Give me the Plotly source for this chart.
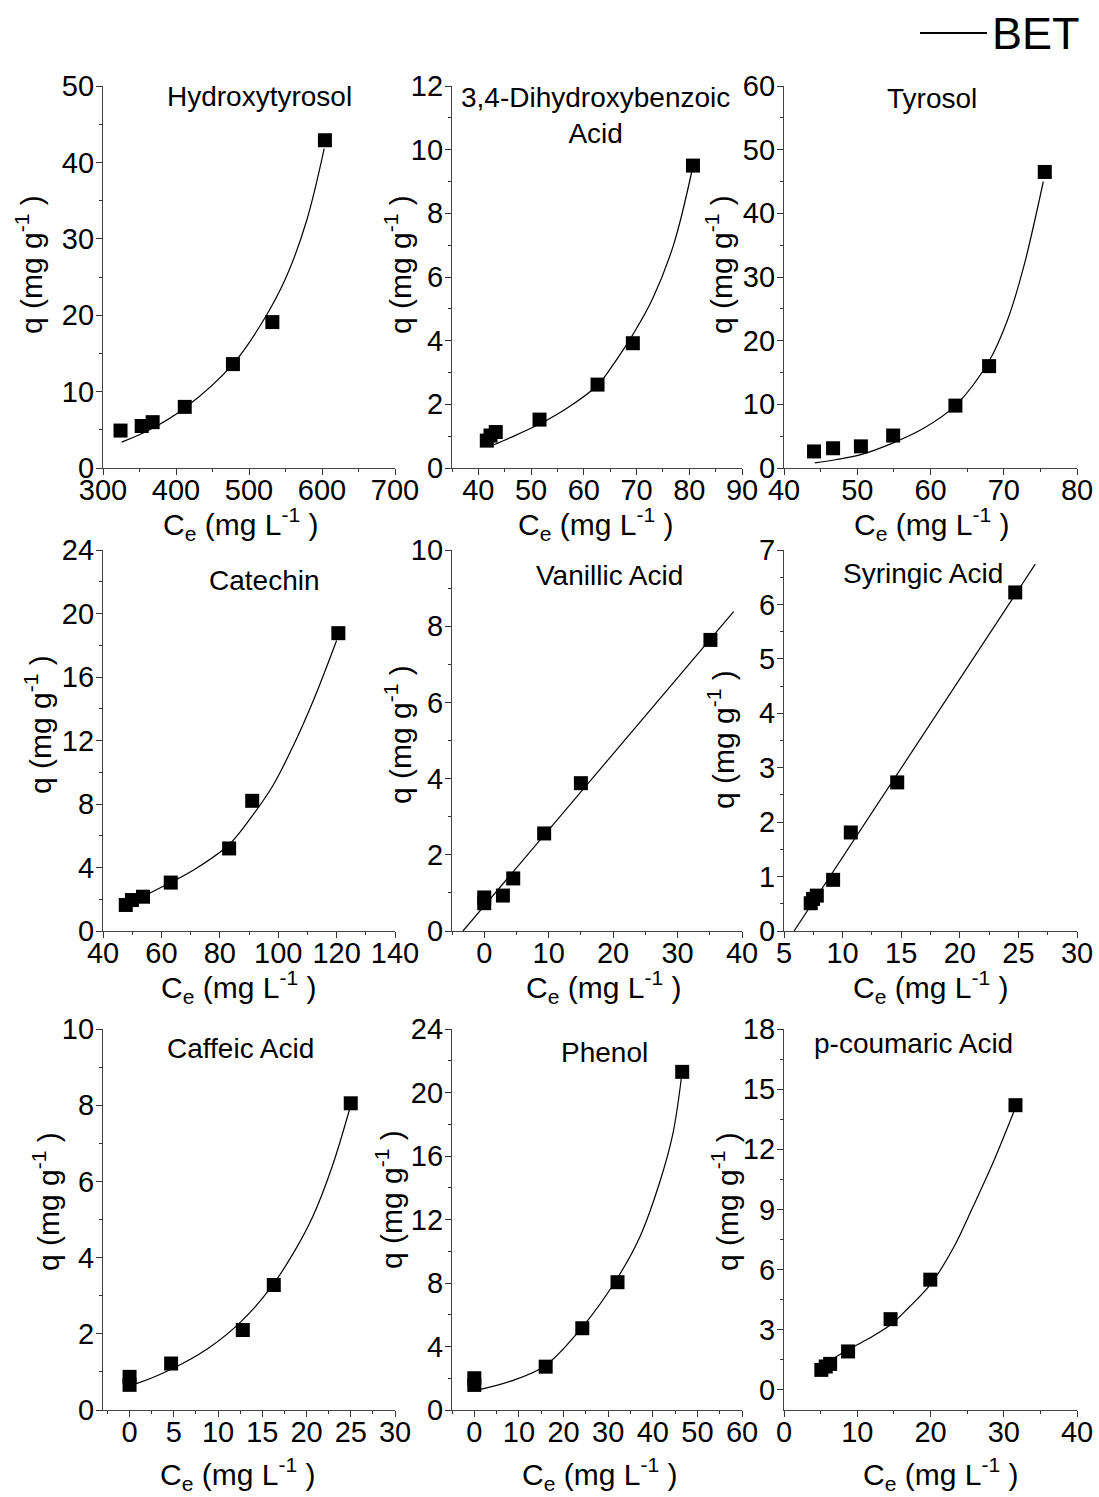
import plotly.graph_objects as go

FONT = "Arial, Liberation Sans, sans-serif"

panel_names = ["Hydroxytyrosol", "3,4-Dihydroxybenzoic<br>Acid", "Tyrosol",
               "Catechin", "Vanillic Acid", "Syringic Acid",
               "Caffeic Acid", "Phenol", "p-coumaric Acid"]
x_title = "C<sub>e</sub> (mg L<sup>-1</sup> )"
y_title = "q (mg g<sup>-1</sup> )"
legend_label = "BET"

# ---- experimental points (Ce, q) ----
hyd_ce = [324, 353, 368, 412, 478, 532, 604]
hyd_q = [4.9, 5.5, 6.0, 8.0, 13.6, 19.1, 42.9]
dhb_ce = [41.6, 42.3, 43.3, 51.6, 62.6, 69.3, 80.7]
dhb_q = [0.86, 1.02, 1.13, 1.52, 2.62, 3.92, 9.5]
tyr_ce = [44.1, 46.7, 50.5, 54.9, 63.4, 68.0, 75.6]
tyr_q = [2.6, 3.1, 3.4, 5.1, 9.8, 16.0, 46.5]
cat_ce = [47.8, 49.9, 53.7, 63.2, 83.2, 91.1, 120.6]
cat_q = [1.64, 1.95, 2.16, 3.05, 5.2, 8.2, 18.76]
van_ce = [0, 0, 2.9, 4.5, 9.3, 15.0, 35.1]
van_q = [0.88, 0.73, 0.93, 1.38, 2.56, 3.88, 7.64]
syr_ce = [7.28, 7.48, 7.8, 9.19, 10.7, 14.66, 24.73]
syr_q = [0.51, 0.59, 0.65, 0.94, 1.81, 2.73, 6.22]
caf_ce = [0, 0, 4.7, 12.8, 16.3, 25.0]
caf_q = [0.87, 0.66, 1.22, 2.1, 3.28, 8.05]
phe_ce = [0, 0, 16.0, 24.2, 32.1, 46.6]
phe_q = [2.0, 1.58, 2.73, 5.15, 8.05, 21.3]
pco_ce = [5.1, 5.7, 6.3, 8.75, 14.55, 19.97, 31.6]
pco_q = [1.0, 1.17, 1.3, 1.92, 3.53, 5.5, 14.2]

# ---- BET fit curves ----
hyd_fit_ce = [325.6, 364, 412, 478, 519, 551, 579, 603]
hyd_fit_q = [3.38, 5.0, 7.85, 13.6, 19.2, 25.0, 32.4, 41.8]
dhb_fit_ce = [42.9, 46, 51.6, 57, 62.6, 66, 69.3, 73, 77, 80.5]
dhb_fit_q = [0.73, 0.95, 1.38, 1.9, 2.6, 3.35, 4.19, 5.3, 7.0, 9.33]
tyr_fit_ce = [44.2, 47, 50.5, 54.9, 59, 63.4, 68, 70.5, 72.7, 75.4]
tyr_fit_q = [0.8, 1.3, 2.1, 3.95, 6.2, 9.8, 16.8, 23.2, 31.5, 45.0]
cat_fit_ce = [48.6, 55, 63.2, 72, 83.2, 91.1, 98, 105, 112, 120]
cat_fit_q = [1.74, 2.3, 3.05, 3.95, 5.45, 7.25, 9.1, 11.6, 14.5, 18.3]
van_fit_ce = [-3.3, 38.7]
van_fit_q = [0.0, 8.38]
syr_fit_ce = [5.86, 26.44]
syr_fit_q = [0.0, 6.74]
caf_fit_ce = [0.3, 0.84, 4.88, 8.9, 12.6, 15.9, 18.5, 20.7, 22.9, 24.9]
caf_fit_q = [0.67, 0.70, 1.09, 1.62, 2.32, 3.19, 4.11, 5.07, 6.39, 7.92]
phe_fit_ce = [0.2, 8, 15.8, 24, 31.8, 37.1, 41.5, 44.5, 46.4]
phe_fit_q = [1.22, 1.8, 2.77, 5.15, 8.19, 10.9, 14.3, 17.4, 20.9]
pco_fit_ce = [5.5, 8.75, 11.5, 14.55, 17, 19.97, 23, 25.85, 28.5, 31.4]
pco_fit_q = [1.3, 2.0, 2.55, 3.25, 4.1, 5.25, 7.0, 9.17, 11.3, 13.9]

points = [(hyd_ce, hyd_q), (dhb_ce, dhb_q), (tyr_ce, tyr_q),
          (cat_ce, cat_q), (van_ce, van_q), (syr_ce, syr_q),
          (caf_ce, caf_q), (phe_ce, phe_q), (pco_ce, pco_q)]
fits = [(hyd_fit_ce, hyd_fit_q), (dhb_fit_ce, dhb_fit_q), (tyr_fit_ce, tyr_fit_q),
        (cat_fit_ce, cat_fit_q), (van_fit_ce, van_fit_q), (syr_fit_ce, syr_fit_q),
        (caf_fit_ce, caf_fit_q), (phe_fit_ce, phe_fit_q), (pco_fit_ce, pco_fit_q)]

# axis ranges and ticks: (range, dtick, tick0, minor dtick)
x_axes = [([300, 700], 100, 300, 50), ([35, 90], 10, 40, 5), ([40, 80], 10, 40, 5),
          ([40, 140], 20, 40, 10), ([-5, 40], 10, 0, 5), ([5, 30], 5, 5, 2.5),
          ([-3, 30], 5, 0, 2.5), ([-5, 60], 10, 0, 5), ([0, 40], 10, 0, 5)]
y_axes = [([0, 50], 10, 0, 5), ([0, 12], 2, 0, 1), ([0, 60], 10, 0, 5),
          ([0, 24], 4, 0, 2), ([0, 10], 2, 0, 1), ([0, 7], 1, 0, 0.5),
          ([0, 10], 2, 0, 1), ([0, 24], 4, 0, 2), ([-1, 18], 3, 0, 1.5)]

W, H = 1099, 1497
col_px = [(103, 395), (452, 742), (784, 1077)]
row_px = [(86, 468), (550, 931), (1029, 1410)]
title_px = [(259, 97), (595, 115), (932, 98), (264, 580), (609, 575), (923, 573),
            (240, 1048), (604, 1052), (913, 1043)]
ytitle_px = [(29, 265), (398, 265), (719, 265), (38, 725), (398, 735), (721, 740),
             (46, 1202), (389, 1200), (725, 1202)]
xtitle_px = [(240, 524), (595, 524), (931, 524), (238, 987), (603, 987), (930, 987),
             (237, 1474), (599, 1474), (940, 1474)]

fig = go.Figure()
layout = {}
annotations = []
for i in range(9):
    r, c = divmod(i, 3)
    n = "" if i == 0 else str(i + 1)
    xa, ya = "x" + n, "y" + n
    px, py = points[i]
    fx, fy = fits[i]
    shape = "linear" if len(fx) == 2 else "spline"
    fig.add_trace(go.Scatter(x=fx, y=fy, mode="lines", xaxis=xa, yaxis=ya,
                             line=dict(color="black", width=1.2, shape=shape),
                             name=legend_label, showlegend=False))
    fig.add_trace(go.Scatter(x=px, y=py, mode="markers", xaxis=xa, yaxis=ya,
                             marker=dict(symbol="square", size=14, color="black"),
                             showlegend=False, name=panel_names[i].replace("<br>", " ")))
    xr, xd, x0, xm = x_axes[i]
    yr, yd, y0, ym = y_axes[i]
    common = dict(showline=True, linecolor="#444", linewidth=1.3, ticks="outside",
                  ticklen=6, tickwidth=1.2, tickcolor="#333", showgrid=False,
                  zeroline=False, tickfont=dict(family=FONT, size=29, color="black"),
                  automargin=False)
    layout["xaxis" + n] = dict(common, range=xr, dtick=xd, tick0=x0, anchor=ya,
                               domain=[col_px[c][0] / W, col_px[c][1] / W],
                               ticklabelstandoff=-10,
                               minor=dict(ticks="outside", ticklen=3, dtick=xm, tick0=x0,
                                          tickcolor="#333"))
    layout["yaxis" + n] = dict(common, range=yr, dtick=yd, tick0=y0, anchor=xa,
                               domain=[1 - row_px[r][1] / H, 1 - row_px[r][0] / H],
                               ticklabelstandoff=-4,
                               minor=dict(ticks="outside", ticklen=3, dtick=ym, tick0=y0,
                                          tickcolor="#333"))
    tx, ty = title_px[i]
    annotations.append(dict(text=panel_names[i], x=tx / W, y=1 - ty / H, xref="paper",
                            yref="paper", showarrow=False, xanchor="center",
                            yanchor="middle", font=dict(family=FONT, size=28, color="black")))
    yx, yy = ytitle_px[i]
    annotations.append(dict(text=y_title, x=yx / W, y=1 - yy / H, xref="paper",
                            yref="paper", showarrow=False, textangle=-90,
                            xanchor="center", yanchor="middle",
                            font=dict(family=FONT, size=30, color="black")))
    xx, xy = xtitle_px[i]
    annotations.append(dict(text=x_title, x=xx / W, y=1 - xy / H, xref="paper",
                            yref="paper", showarrow=False, xanchor="center",
                            yanchor="middle", font=dict(family=FONT, size=30, color="black")))

# legend key (BET line)
annotations.append(dict(text=legend_label, x=990 / W, y=1 - 34 / H, xref="paper",
                        yref="paper", showarrow=False, xanchor="left", yanchor="middle",
                        font=dict(family=FONT, size=45, color="black")))
shapes = [dict(type="line", xref="paper", yref="paper", x0=920 / W, x1=987 / W,
               y0=1 - 33 / H, y1=1 - 33 / H, line=dict(color="black", width=2))]

fig.update_layout(**layout)
fig.update_layout(width=W, height=H, margin=dict(l=0, r=0, t=0, b=0),
                  paper_bgcolor="white", plot_bgcolor="white",
                  annotations=annotations, shapes=shapes, showlegend=False)
fig.write_html("out.html")
